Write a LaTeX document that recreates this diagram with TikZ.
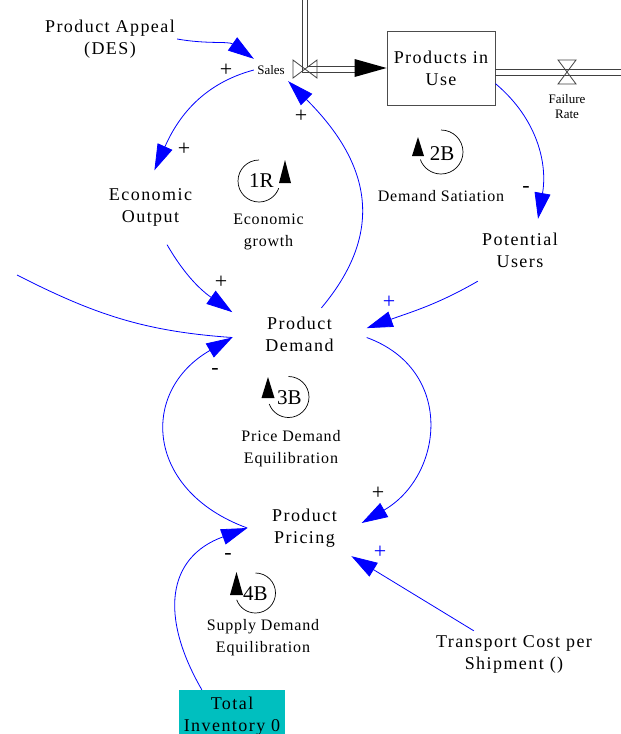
\documentclass[tikz,border=0pt]{standalone}
\usepackage{fontspec}
\setmainfont{Liberation Serif}
\newfontfamily\varfont{Liberation Serif}[LetterSpace=8]
\newfontfamily\loopfont{Liberation Serif}[LetterSpace=5]
\usepackage{xcolor}
\usetikzlibrary{arrows.meta}
\definecolor{invcyan}{RGB}{0,191,191}

\begin{document}
\begin{tikzpicture}[x=1pt, y=1pt,
        var/.style={font=\varfont\fontsize{18}{22}\selectfont, align=center, inner sep=2pt},
        small/.style={font=\fontsize{13}{15}\selectfont, align=center, inner sep=2pt},
        loopname/.style={font=\loopfont\fontsize{16}{22}\selectfont, align=center},
        loopid/.style={font=\fontsize{21}{21}\selectfont, inner sep=0pt},
        link/.style={blue, line width=0.8pt, -{Triangle[length=26pt, width=16pt]}},
        sign/.style={font=\fontsize{22}{22}\selectfont, inner sep=0pt},
        pipe/.style={draw=black!75, line width=0.8pt}]
        \useasboundingbox (0,0) rectangle (621,-734);

        \node[var] (appeal) at (110,-39) {Product Appeal\\(DES)};
        \node[small, minimum width=34, minimum height=22] (sales) at (271,-70) {Sales};
        \node[var, draw=black!70, line width=0.9pt, minimum width=108, minimum height=74] (stock) at (441,-68) {Products in\\Use};
        \node[small] (failure) at (567,-107) {Failure\\Rate};
        \node[var, minimum width=120, minimum height=74] (econ) at (150.5,-207.5) {Economic\\Output};
        \node[var, minimum width=84, minimum height=62] (potential) at (520,-250) {Potential\\Users};
        \node[var, minimum width=134, minimum height=52] (demand) at (299.5,-334) {Product\\Demand};
        \node[var, minimum width=114, minimum height=56] (pricing) at (304.5,-528) {Product\\Pricing};
        \node[var, minimum height=46] (transport) at (514,-654) {Transport Cost per\\Shipment ()};
        \node[var, fill=invcyan, minimum width=106, minimum height=52] (inventory) at (232,-716) {Total\\Inventory 0};

        % loops
        \node[loopid] (r1) at (261.5,-180.5) {1R};
        \node[loopname] (r1name) at (268.5,-232) {Economic\\growth};
        \node[loopid] (b2) at (442,-153.5) {2B};
        \node[loopname] (b2name) at (441,-196) {Demand Satiation};
        \node[loopid] (b3) at (289.5,-397.5) {3B};
        \node[loopname] (b3name) at (291,-448.5) {Price Demand\\Equilibration};
        \node[loopid] (b4) at (255.5,-593.5) {4B};
        \node[loopname] (b4name) at (263,-637.5) {Supply Demand\\Equilibration};

        \draw[line width=0.7pt] (259,-160) arc[start angle=90, end angle=340, radius=21];
        \fill (285,-160) -- (291,-183) -- (279,-183) -- cycle;
        \draw[line width=0.7pt] (441,-130) arc[start angle=90, end angle=-160, radius=22];
        \fill (418,-137) -- (424,-156) -- (412,-156) -- cycle;
        \draw[line width=0.7pt] (288.5,-376.5) arc[start angle=90, end angle=-160, radius=20.5];
        \fill (268,-377) -- (274.5,-398) -- (261.5,-398) -- cycle;
        \draw[line width=0.7pt] (255.5,-573) arc[start angle=90, end angle=-160, radius=20];
        \fill (236.5,-572) -- (243,-595) -- (230,-595) -- cycle;

        % flows
        \draw[pipe] (302,0) |- (356,-72);
        \draw[pipe] (307,0) |- (356,-66);
        \fill (stock.west) -- ++(-32,9) -- ++(0,-18) -- cycle;
        \draw[pipe] (293,-60) -- (317,-78) -- (317,-60) -- (293,-78) -- cycle;
        \draw[pipe] (495,-69) -- (621,-69);
        \draw[pipe] (495,-75) -- (621,-75);
        \draw[pipe] (558,-60) -- (576,-60) -- (558,-84) -- (576,-84) -- cycle;

        % links
        \draw[link] (appeal.east) to[out=-10, in=145] (sales.north west);
        \draw[link] (sales.west) to[out=195, in=66] (econ.84);
        \draw[link] (demand.50) to[out=50, in=-45, looseness=1.2] (sales.south east);
        \draw[link] (econ.-66) to[out=-60, in=145] (demand.162);
        \coordinate (offpage) at (17,-275);
        \draw[blue, line width=0.8pt] (offpage) to[out=-27, in=176] (demand.183);
        \draw[link] (pricing.west) to[out=160, in=-150, looseness=1.45] (demand.183);
        \draw[link] (demand.-3) to[out=-20, in=30, looseness=1.3] (pricing.5);
        \draw[link] (stock.-16) to[out=-40, in=80] (potential.60);
        \draw[link] (potential.south west) to[out=-150, in=20] (demand.5);
        \draw[link] (transport.150) -- (pricing.-31);
        \draw[link] (inventory.139) to[out=120, in=-160, looseness=1.3] (pricing.west);

        % polarities
        \node[sign] (sg1) at (226,-70) {+};
        \node[sign] (sg2) at (184,-149) {+};
        \node[sign] (sg3) at (301,-116) {+};
        \node[sign] (sg4) at (221,-282) {+};
        \node[sign] (sg5) at (526,-189) {-};
        \node[sign, text=blue] (sg6) at (389,-302) {+};
        \node[sign] (sg7) at (215,-371) {-};
        \node[sign] (sg8) at (378,-493) {+};
        \node[sign, text=blue] (sg9) at (380,-552) {+};
        \node[sign] (sg10) at (228,-556) {-};
\end{tikzpicture}
\end{document}
